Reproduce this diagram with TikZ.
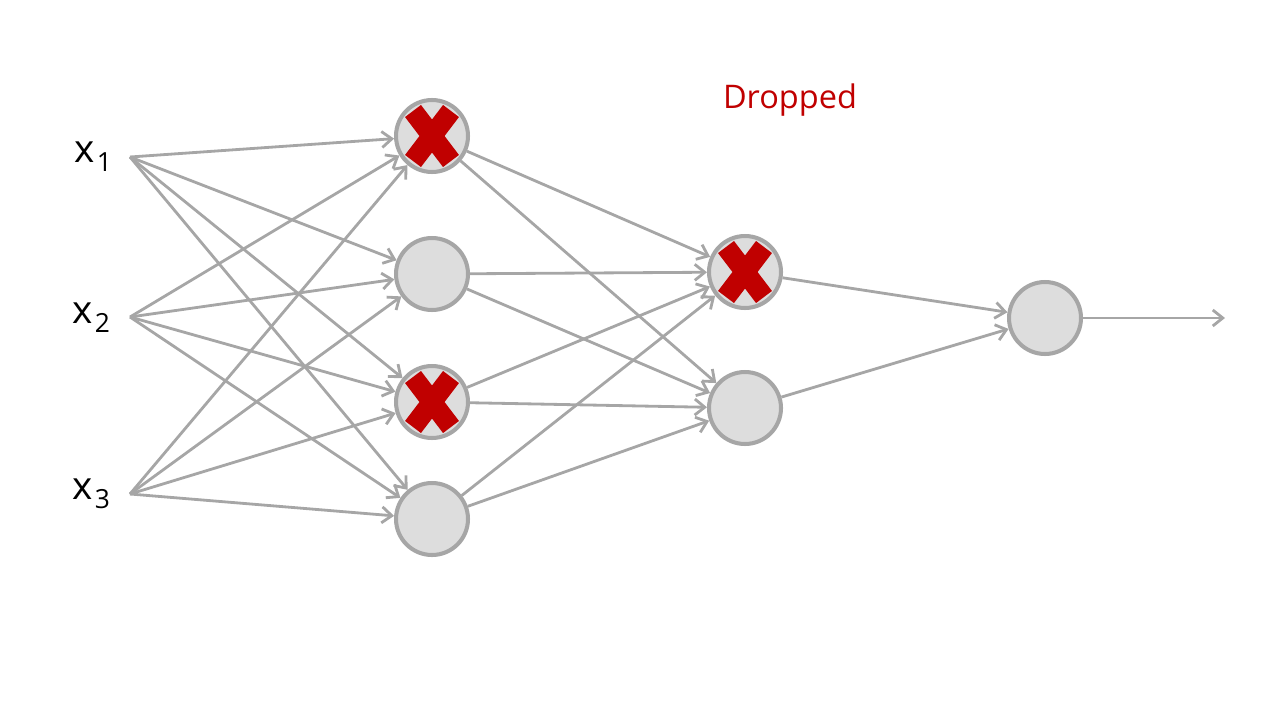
\documentclass[tikz,border=0pt]{standalone}
\usepackage{fontspec}
\usetikzlibrary{arrows.meta,calc}
\newfontfamily\labelfont{Open Sans}
\definecolor{edgegray}{HTML}{A6A6A6}
\definecolor{nodefill}{HTML}{DDDDDD}
\definecolor{dropred}{HTML}{C00000}
\tikzset{
  neuron/.style={circle, draw=edgegray, fill=nodefill, line width=2.3pt, minimum size=1.44cm, inner sep=0pt},
  wire/.style={draw=edgegray, line width=1.6pt, -{Straight Barb[length=0.2cm, width=0.32cm]}},
  inlabel/.style={font=\labelfont\fontsize{22}{26}\selectfont, inner sep=0pt}
}
\newcommand{\inname}[1]{x\hspace{1.5pt}\raisebox{-5pt}{\fontsize{15}{15}\selectfont #1}}
\newcommand{\dropmark}[1]{%
  \draw[dropred, line width=0.4cm, line cap=butt] ($(#1)+(-19,-25)$) -- ($(#1)+(19,25)$);
  \draw[dropred, line width=0.4cm, line cap=butt] ($(#1)+(19,-25)$) -- ($(#1)+(-19,25)$);}

\begin{document}
\begin{tikzpicture}[x=0.02cm, y=-0.02cm]
  %%%%% START %%%%%
  \useasboundingbox (0, 0) rectangle (1280, 720);

  % inputs
  \node[inlabel] (x1) at (93, 157) {\inname{1}};
  \node[inlabel] (x2) at (91, 318) {\inname{2}};
  \node[inlabel] (x3) at (91, 494) {\inname{3}};
  \coordinate (in1) at (130, 157);
  \coordinate (in2) at (130, 317);
  \coordinate (in3) at (130, 494);

  % first hidden layer
  \node[neuron] (h11) at (432, 136) {};
  \node[neuron] (h12) at (432, 274) {};
  \node[neuron] (h13) at (432, 402) {};
  \node[neuron] (h14) at (432, 519) {};

  % second hidden layer
  \node[neuron] (h21) at (745, 272) {};
  \node[neuron] (h22) at (745, 408) {};

  % output
  \node[neuron] (out) at (1045, 318) {};
  \coordinate (outend) at (1225, 318);

  \draw[wire] (in1) -- (h11);
  \draw[wire] (in1) -- (h12);
  \draw[wire] (in1) -- (h13);
  \draw[wire] (in1) -- (h14);
  \draw[wire] (in2) -- (h11);
  \draw[wire] (in2) -- (h12);
  \draw[wire] (in2) -- (h13);
  \draw[wire] (in2) -- (h14);
  \draw[wire] (in3) -- (h11);
  \draw[wire] (in3) -- (h12);
  \draw[wire] (in3) -- (h13);
  \draw[wire] (in3) -- (h14);

  \draw[wire] (h11) -- (h21);
  \draw[wire] (h11) -- (h22);
  \draw[wire] (h12) -- (h21);
  \draw[wire] (h12) -- (h22);
  \draw[wire] (h13) -- (h21);
  \draw[wire] (h13) -- (h22);
  \draw[wire] (h14) -- (h21);
  \draw[wire] (h14) -- (h22);

  \draw[wire] (h21) -- (out);
  \draw[wire] (h22) -- (out);
  \draw[wire] (out) -- (outend);

  % dropped units
  \dropmark{h11}
  \dropmark{h13}
  \dropmark{h21}

  \node[font=\labelfont\fontsize{18.5}{22}\selectfont, text=dropred] (droplabel) at (790, 100) {Dropped};
  %%%%% END %%%%%
\end{tikzpicture}
\end{document}
